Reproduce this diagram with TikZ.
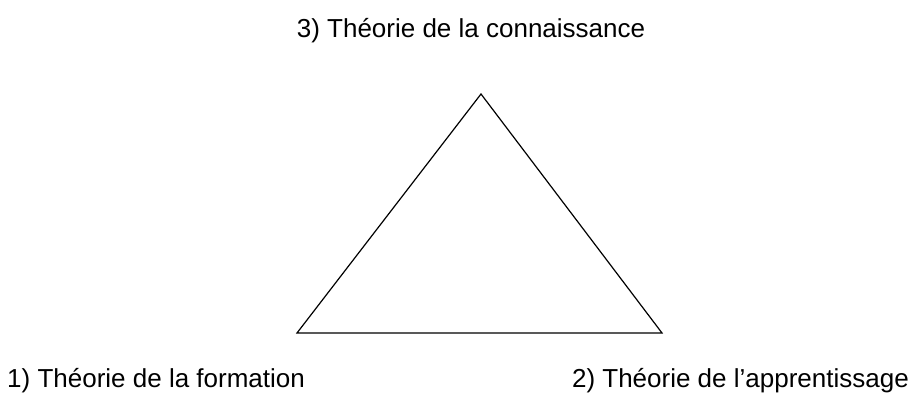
\documentclass[tikz,border=0pt]{standalone}
\usepackage{fontspec}
\setmainfont{Liberation Sans}
\usetikzlibrary{positioning}

\begin{document}
\begin{tikzpicture}[
  x=1pt, y=1pt,
  every node/.style={font=\fontsize{26}{31}\selectfont, inner sep=0pt},
  theory/.style={},
  edge/.style={draw, line width=1.2pt, line join=miter}
]
\useasboundingbox (0,0) rectangle (913,395);

% corners of the triangle
\coordinate (top)   at (481,301);
\coordinate (left)  at (297,62);
\coordinate (right) at (662,62);

\node[theory, anchor=base] (connaissance) at (471,357) {3) Théorie de la connaissance};
\node[theory, anchor=base west] (formation) at (7,7) {1) Théorie de la formation};
\node[theory, anchor=base east] (apprentissage) at (909,7) {2) Théorie de l’apprentissage};

\draw[edge] (left) -- (top) -- (right) -- cycle;

\end{tikzpicture}
\end{document}
